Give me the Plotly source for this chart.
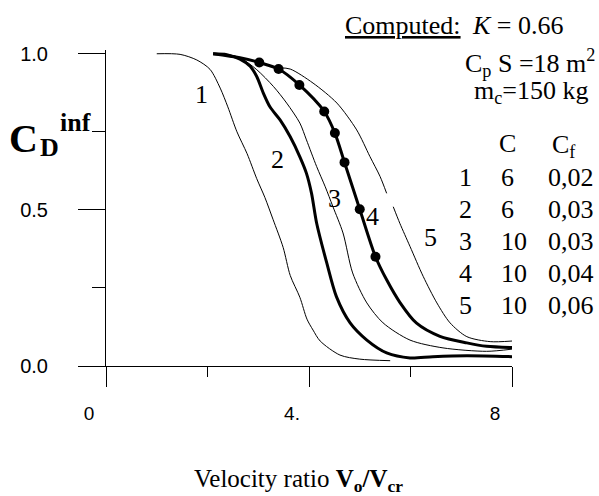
import plotly.graph_objects as go

# ---------------- data ----------------
x1 = [1.0, 1.46, 1.79, 2.05, 2.25, 2.40, 2.58, 2.78, 2.97, 3.13, 3.29, 3.49, 3.63, 3.82, 3.96, 4.08, 4.22, 4.61, 5.00, 5.60]
y1 = [1.0, 0.998, 0.98, 0.95, 0.89, 0.83, 0.75, 0.68, 0.60, 0.54, 0.47, 0.38, 0.29, 0.22, 0.15, 0.115, 0.08, 0.035, 0.022, 0.017]

x2 = [2.11, 2.38, 2.64, 2.84, 2.97, 3.10, 3.23, 3.43, 3.63, 3.82, 3.95, 4.05, 4.15, 4.35, 4.54, 4.81, 5.14, 5.53, 5.99, 6.44, 7.11, 8.0]
y2 = [1.0, 0.997, 0.983, 0.96, 0.927, 0.874, 0.83, 0.788, 0.734, 0.67, 0.617, 0.553, 0.458, 0.33, 0.222, 0.138, 0.083, 0.042, 0.026, 0.030, 0.033, 0.030]

x3 = [2.3, 2.64, 2.97, 3.30, 3.56, 3.82, 3.95, 4.15, 4.32, 4.47, 4.67, 4.86, 5.14, 5.46, 5.99, 6.64, 7.50, 8.0]
y3 = [1.0, 0.987, 0.949, 0.895, 0.842, 0.778, 0.724, 0.639, 0.574, 0.511, 0.426, 0.298, 0.202, 0.138, 0.083, 0.058, 0.047, 0.054]

x4 = [2.11, 2.64, 3.02, 3.40, 3.81, 4.30, 4.51, 4.70, 5.00, 5.31, 5.53, 5.79, 6.12, 6.58, 7.11, 7.50, 8.0]
y4 = [1.0, 0.987, 0.972, 0.951, 0.900, 0.815, 0.746, 0.652, 0.502, 0.350, 0.276, 0.204, 0.137, 0.095, 0.074, 0.063, 0.059]

x4_dots = [3.02, 3.40, 3.81, 4.30, 4.51, 4.70, 5.00, 5.31]
y4_dots = [0.972, 0.951, 0.900, 0.815, 0.746, 0.652, 0.502, 0.350]

x5 = [3.42, 3.63, 4.08, 4.55, 4.94, 5.20, 5.40, 5.53, None, 5.66, 5.79, 5.99, 6.25, 6.52, 6.78, 7.11, 7.57, 8.0]
y5 = [0.955, 0.951, 0.906, 0.842, 0.756, 0.671, 0.607, 0.553, None, 0.510, 0.457, 0.383, 0.287, 0.202, 0.138, 0.094, 0.078, 0.080]

curve_labels = ["1", "2", "3", "4", "5"]
label_x = [1.89, 3.37, 4.51, 5.26, 6.40]
label_y = [0.869, 0.66, 0.538, 0.478, 0.413]

x_tickvals = [0, 4, 8]
x_ticktext = ["0", "4.", "8"]
x_minor = [2, 6]
y_tickvals = [0.0, 0.5, 1.0]
y_ticktext = ["0.0", "0.5", "1.0"]
y_minor = [0.25, 0.75]

table_ids = ["1", "2", "3", "4", "5"]
table_C = ["6", "6", "10", "10", "10"]
table_Cf = ["0,02", "0,03", "0,03", "0,04", "0,06"]

# ---------------- figure ----------------
W, H = 599, 496
ML, MR, MT, MB = 106, 87, 50, 130
PW, PH = W - ML - MR, H - MT - MB

def px2x(px):
    return (px - ML) / PW

def py2y(py):
    return (H - MB - py) / PH

SERIF = "Liberation Serif"
fig = go.Figure()

thin = dict(color="black", width=1, shape="spline", smoothing=0.8)
thick = dict(color="black", width=3, shape="spline", smoothing=0.8)

fig.add_trace(go.Scatter(x=x1, y=y1, mode="lines", line=thin))
fig.add_trace(go.Scatter(x=x3, y=y3, mode="lines", line=thin))
fig.add_trace(go.Scatter(x=x5, y=y5, mode="lines", line=thin, connectgaps=False))
fig.add_trace(go.Scatter(x=x2, y=y2, mode="lines", line=thick))
fig.add_trace(go.Scatter(x=x4, y=y4, mode="lines", line=thick))
fig.add_trace(go.Scatter(x=x4_dots, y=y4_dots, mode="markers",
                         marker=dict(color="black", size=10), cliponaxis=False))

ann = []
for t, xx, yy in zip(curve_labels, label_x, label_y):
    ann.append(dict(x=xx, y=yy, xref="x", yref="y", text=t, showarrow=False,
                    font=dict(family=SERIF, size=26, color="black")))

def txt(text, px, py, size=26, anchor="left"):
    ann.append(dict(x=px2x(px), y=py2y(py), xref="paper", yref="paper", text=text,
                    showarrow=False, xanchor=anchor, yanchor="middle",
                    font=dict(family=SERIF, size=size, color="black")))

txt("<u>Computed:</u>", 343, 25)
txt("<i>K</i> = 0.66", 470, 25)
txt("C<sub>p</sub> S =18 m<sup>2</sup>", 463, 63)
txt("m<sub>c</sub>=150 kg", 472, 92)
txt("C", 497, 143)
txt("C<sub>f</sub>", 550, 146)
row_y = [177, 209, 241, 273, 305]
for i, ry in enumerate(row_y):
    txt(table_ids[i], 457, ry)
    txt(table_C[i], 499, ry)
    txt(table_Cf[i], 546, ry)

# axis title C_D^inf
txt("<b>C</b>", 23, 138, size=40, anchor="center")
txt("<b>D</b>", 49, 147, size=26, anchor="center")
txt("<b>inf</b>", 75, 122, size=26, anchor="center")

# x axis title
txt("Velocity ratio <b>V<sub>o</sub>/V<sub>cr</sub></b>", 298, 480, size=25, anchor="center")

fig.update_layout(
    width=W, height=H,
    margin=dict(l=ML, r=MR, t=MT, b=MB, pad=0),
    paper_bgcolor="white", plot_bgcolor="white",
    showlegend=False,
    annotations=ann,
    font=dict(family=SERIF, color="black"),
)
fig.update_xaxes(
    range=[0, 8], showgrid=False, zeroline=False,
    showline=True, linecolor="black", linewidth=1,
    ticks="outside", ticklen=20, tickwidth=1, tickcolor="black",
    tickvals=x_tickvals, ticktext=x_ticktext,
    tickfont=dict(family="Liberation Sans", size=19, color="black"),
    ticklabelshift=-17, ticklabelstandoff=10,
    minor=dict(tickvals=x_minor, ticks="outside", ticklen=10, tickwidth=1, tickcolor="black", showgrid=False),
)
fig.update_yaxes(
    range=[0, 1.012], showgrid=False, zeroline=False,
    showline=True, linecolor="black", linewidth=1,
    ticks="outside", ticklen=27, tickwidth=1, tickcolor="black",
    tickvals=y_tickvals, ticktext=y_ticktext,
    tickfont=dict(family="Liberation Sans", size=20, color="black"),
    ticklabelstandoff=26,
    minor=dict(tickvals=y_minor, ticks="outside", ticklen=13, tickwidth=1, tickcolor="black", showgrid=False),
)

fig.write_html("out.html", config={"displayModeBar": False},
               post_script="document.body.style.margin='0';document.body.style.overflow='hidden';")
